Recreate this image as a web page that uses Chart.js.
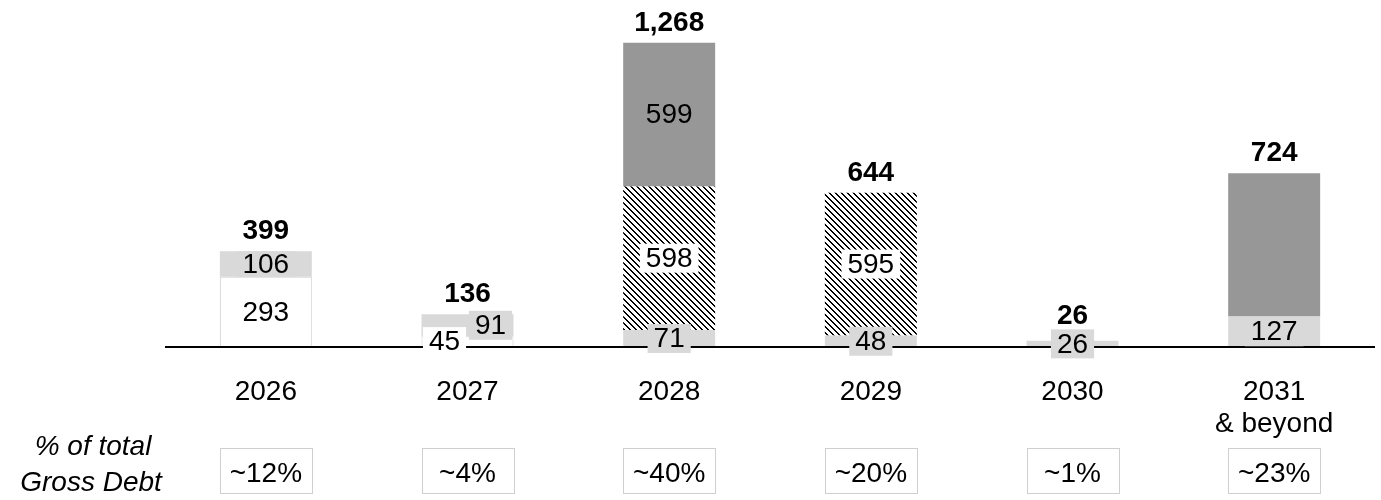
<!DOCTYPE html>
<html>
<head>
<meta charset="utf-8">
<title>Debt maturity profile</title>
<script src="https://cdn.jsdelivr.net/npm/chart.js@4.4.1/dist/chart.umd.min.js"></script>
<style>
    html, body { margin: 0; padding: 0; background: #fff; }
    #wrap { position: relative; width: 1381px; height: 500px; }
</style>
</head>
<body>
<div id="wrap"><canvas id="chartDeuda"></canvas></div>
<script>
// Datos del gráfico
const years = [['2026'], ['2027'], ['2028'], ['2029'], ['2030'], ['2031', '& beyond']];
const plainDebt = [293, 45, null, null, null, null];    // segmento blanco
const greyDebt = [106, 91, 71, 48, 26, 127];             // segmento gris claro
const hatchedDebt = [null, null, 598, 595, null, null];  // segmento rayado
const darkDebt = [null, null, 599, null, null, 597];     // segmento gris oscuro
const darkShowLabel = [false, false, true, false, false, false];
const totals = [399, 136, 1268, 644, 26, 724];
const shares = ['~12%', '~4%', '~40%', '~20%', '~1%', '~23%'];
const shareCaption = ['% of total', 'Gross Debt'];

// Paleta y tipografía
const FONT = "'Liberation Sans', Arial, Helvetica, sans-serif";
const LIGHT = '#d9d9d9'; const DARK = '#979797'; const EDGE = '#cfcfcf';

// Patrón de rayas diagonales (negro sobre blanco)
function hatchPattern() {
    const c = document.createElement('canvas');
    c.width = 6; c.height = 6;
    const g = c.getContext('2d');
    g.fillStyle = '#fff'; g.fillRect(0, 0, 6, 6);
    g.fillStyle = '#000';
    for (let y = 0; y < 6; y++) {
        for (let dx = 0; dx < 2; dx++) g.fillRect((y + dx) % 6, y, 1, 1);
    }
    return g.createPattern(c, 'repeat');
}

// Etiquetas de cada segmento, totales, línea base y recuadros de %
const labelPlugin = {
    id: 'segmentLabels',
    afterDatasetsDraw(chart) {
        const { ctx, chartArea } = chart;
        ctx.save();
        // línea base sobre las barras
        ctx.strokeStyle = '#000'; ctx.lineWidth = 2;
        ctx.beginPath();
        ctx.moveTo(chartArea.left, chartArea.bottom);
        ctx.lineTo(chartArea.right, chartArea.bottom);
        ctx.stroke();

        const boxH = 29;
        years.forEach((_, j) => {
            const items = [];
            let barTop = chartArea.bottom;
            chart.data.datasets.forEach((ds, i) => {
                const v = ds.data[j];
                if (v == null) return;
                const el = chart.getDatasetMeta(i).data[j];
                barTop = Math.min(barTop, el.y);
                if (ds.showLabel && !ds.showLabel[j]) return;
                const segH = el.base - el.y;
                // si el segmento es casi del alto de la etiqueta, no sobresalir
                const h = segH >= boxH - 4 ? Math.min(boxH, segH) : boxH;
                items.push({ text: String(v), x: el.x, y: (el.y + el.base) / 2, w: el.width, h, bg: ds.labelBg });
            });
            // si dos etiquetas se enciman, separarlas a izquierda/derecha
            for (let k = 1; k < items.length; k++) {
                if (Math.abs(items[k - 1].y - items[k].y) < boxH) {
                    items[k - 1].x -= items[k - 1].w / 4;
                    items[k].x += items[k].w / 4;
                }
            }
            ctx.font = `28px ${FONT}`;
            ctx.textAlign = 'center'; ctx.textBaseline = 'middle';
            let boxTop = chartArea.bottom;
            items.forEach((it) => {
                const bw = ctx.measureText(it.text).width + 12;
                const top = it.y - it.h / 2;
                boxTop = Math.min(boxTop, top);
                ctx.fillStyle = it.bg;
                ctx.fillRect(it.x - bw / 2, top, bw, it.h);
                ctx.fillStyle = '#000';
                ctx.fillText(it.text, it.x, it.y + 1);
            });
            // total en negritas arriba de la barra
            ctx.font = `bold 28px ${FONT}`;
            ctx.textBaseline = 'alphabetic';
            const ty = Math.min(barTop - 12, boxTop - 5);
            ctx.fillText(totals[j].toLocaleString('en-US'), chart.scales.x.getPixelForValue(j), ty);
        });
        ctx.restore();
    },
    afterDraw(chart) {
        const { ctx, chartArea } = chart;
        const xs = chart.scales.x;
        const w = chart.getDatasetMeta(1).data[0].width;
        ctx.save();
        ctx.font = `28px ${FONT}`;
        ctx.textAlign = 'center'; ctx.textBaseline = 'alphabetic';
        shares.forEach((s, j) => {
            const x = xs.getPixelForValue(j);
            const left = Math.round(x - w / 2) + 0.5;
            const top = chartArea.bottom + 101.5;
            ctx.fillStyle = '#fff';
            ctx.fillRect(left, top, Math.round(w), 45);
            ctx.strokeStyle = EDGE; ctx.lineWidth = 1;
            ctx.strokeRect(left, top, Math.round(w), 45);
            ctx.fillStyle = '#000';
            ctx.fillText(s, x, chartArea.bottom + 135);
        });
        // leyenda en cursiva a la izquierda
        ctx.font = `italic 28px ${FONT}`;
        ctx.fillText(shareCaption[0], 93, chartArea.bottom + 108);
        ctx.fillText(shareCaption[1], 91, chartArea.bottom + 144);
        ctx.restore();
    }
};

const BAR = { categoryPercentage: 1, barPercentage: 0.456, borderWidth: 0 };

new Chart(document.getElementById('chartDeuda'), {
    type: 'bar',
    data: {
        labels: years,
        datasets: [
            { ...BAR, data: plainDebt, backgroundColor: '#fff', borderColor: EDGE, borderWidth: 1, labelBg: '#fff' },
            { ...BAR, data: greyDebt, backgroundColor: LIGHT, labelBg: LIGHT },
            { ...BAR, data: hatchedDebt, backgroundColor: hatchPattern(), labelBg: '#fff' },
            { ...BAR, data: darkDebt, backgroundColor: DARK, labelBg: DARK, showLabel: darkShowLabel }
        ]
    },
    options: {
        responsive: true,
        maintainAspectRatio: false,
        animation: false,
        layout: { padding: { left: 165, right: 6, top: 11, bottom: 0 } },
        plugins: { legend: { display: false }, tooltip: { enabled: false } },
        scales: {
            x: {
                stacked: true,
                grid: { display: false },
                border: { display: false },
                ticks: { color: '#000', font: { family: FONT, size: 28, lineHeight: 1.14 }, padding: 21, maxRotation: 0, autoSkip: false },
                afterFit(scale) { scale.height = 153; }
            },
            y: { stacked: true, display: false, min: 0, max: 1400 }
        }
    },
    plugins: [labelPlugin]
});
</script>
</body>
</html>
